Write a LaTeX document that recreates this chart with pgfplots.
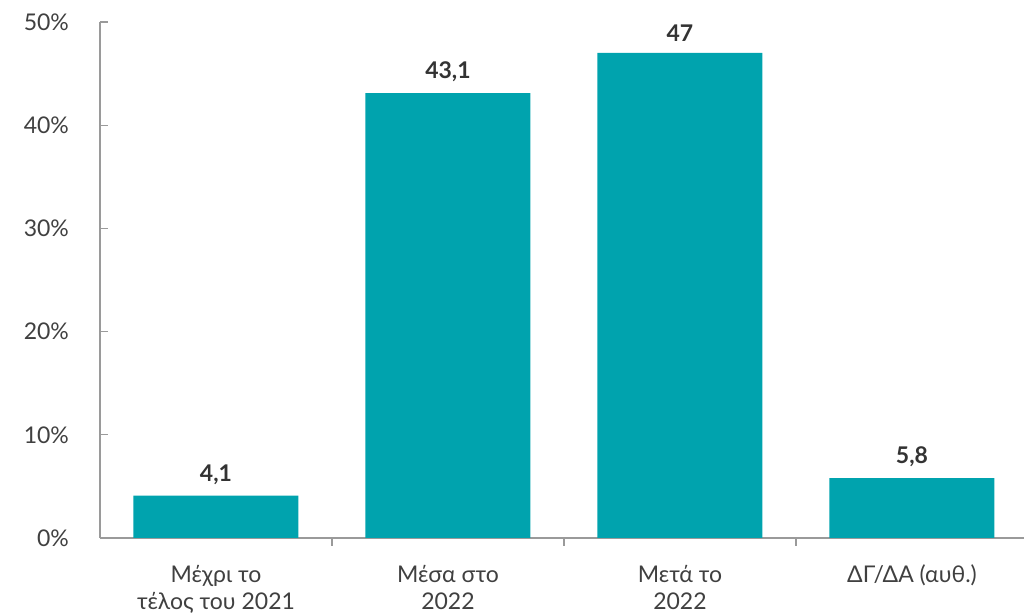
\documentclass[border=0pt]{standalone}
\usepackage{fontspec}
\setmainfont{Lato}
\usepackage{pgfplots}
\pgfplotsset{compat=1.18}
\definecolor{barteal}{HTML}{00A3AE}
\definecolor{axgray}{HTML}{9A9A9A}
\definecolor{txtgray}{HTML}{404040}
\definecolor{lblgray}{HTML}{333333}
\begin{document}
\begin{tikzpicture}
\useasboundingbox (-50pt,-38pt) rectangle (462pt,269pt);
\begin{axis}[
  at={(0,0)}, anchor=south west,
  scale only axis, width=464pt, height=258pt,
  xmin=-0.5, xmax=3.5, ymin=0, ymax=50,
  axis x line*=bottom, axis y line*=left,
  axis line style={draw=axgray, line width=0.6pt},
  ytick={0,10,...,50},
  yticklabel={\pgfmathprintnumber{\tick}\%},
  yticklabel style={font=\fontsize{11.5}{13}\selectfont, text=txtgray, xshift=-12pt},
  ytick style={draw=axgray, line width=0.6pt},
  tick align=inside, major tick length=4pt,
  xtick={0,1,2,3},
  xticklabels={{Μέχρι το\\τέλος του 2021},{Μέσα στο\\2022},{Μετά το\\2022},{ΔΓ/ΔΑ (αυθ.)}},
  xticklabel style={font=\fontsize{11.5}{13.5}\selectfont, text=txtgray, align=center, yshift=-6pt},
  xtick style={draw=none},
  extra x ticks={0.5,1.5,2.5},
  extra x tick labels={},
  extra x tick style={xtick style={draw=axgray, line width=0.6pt}},
  /pgf/number format/assume math mode=true,
  ybar, bar width=82.5pt,
  nodes near coords,
  nodes near coords style={font=\bfseries\fontsize{11.5}{13}\selectfont, text=lblgray, yshift=2pt,
    /pgf/number format/.cd, use comma, fixed, precision=1, 1000 sep={}},
  clip=false,
]
\addplot[fill=barteal, draw=none] coordinates {(0,4.1) (1,43.1) (2,47) (3,5.8)};
\end{axis}
\end{tikzpicture}
\end{document}
